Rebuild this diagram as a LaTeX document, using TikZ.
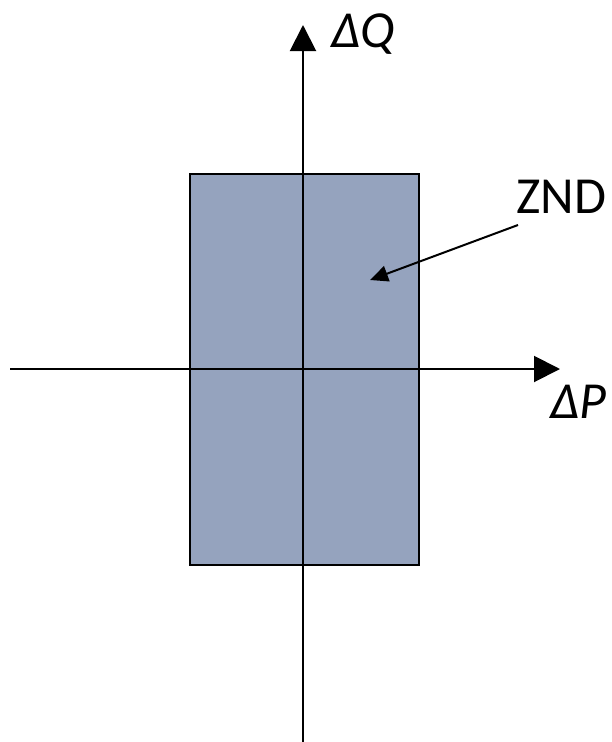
\documentclass[tikz,border=0pt]{standalone}
\usepackage{fontspec}
\setmainfont{Carlito}
\usetikzlibrary{arrows.meta}
\definecolor{zonefill}{HTML}{95A3BE}
\tikzset{
  axis/.style={line width=2pt, -{Triangle[length=26pt,width=26pt]}},
  lbl/.style={inner sep=0pt, anchor=base west},
  big/.style={font=\fontsize{52}{62}\selectfont},
}
\begin{document}
\begin{tikzpicture}[x=1pt,y=-1pt]
\useasboundingbox (0,0) rectangle (612,742);
\node[draw=black, line width=2pt, fill=zonefill, minimum width=229pt, minimum height=391pt, inner sep=0pt, anchor=north west] (zone) at (189,173) {};
\coordinate (xs) at (10,369);
\coordinate (xe) at (560,369);
\coordinate (ys) at (303,742);
\coordinate (ye) at (303,25);
\draw[axis] (xs) -- (xe);
\draw[axis] (ys) -- (ye);
\node[lbl, big] (dq) at (331,47) {\itshape ΔQ};
\node[lbl, big] (dp) at (550,418) {\itshape ΔP};
\node[lbl, big] (znd) at (516,213) {ZND};
\coordinate (zs) at (518,225);
\coordinate (zt) at (370,280);
\draw[line width=2pt, -{Triangle[length=18pt,width=16pt]}] (zs) -- (zt);
\end{tikzpicture}
\end{document}
